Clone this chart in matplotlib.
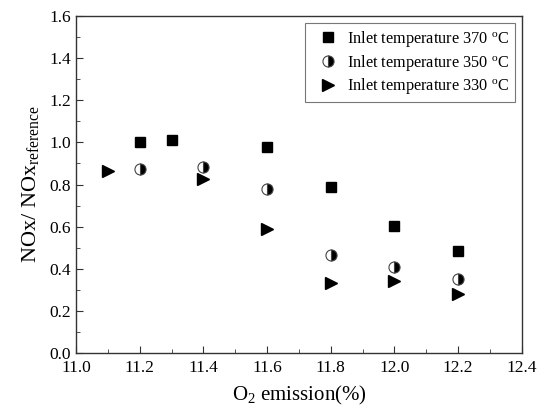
import matplotlib
matplotlib.use("Agg")
import matplotlib.pyplot as plt
from matplotlib.ticker import MultipleLocator

plt.rcParams["font.family"] = "Liberation Serif"
plt.rcParams["mathtext.fontset"] = "custom"
plt.rcParams["mathtext.rm"] = "Liberation Serif"
plt.rcParams["mathtext.it"] = "Liberation Serif:italic"

# --- data ---
x370 = [11.2, 11.3, 11.6, 11.8, 12.0, 12.2]
y370 = [1.00, 1.01, 0.98, 0.79, 0.605, 0.485]

x350 = [11.2, 11.4, 11.6, 11.8, 12.0, 12.2]
y350 = [0.875, 0.885, 0.78, 0.465, 0.41, 0.35]

x330 = [11.1, 11.4, 11.6, 11.8, 12.0, 12.2]
y330 = [0.865, 0.825, 0.59, 0.33, 0.34, 0.28]

labels = [r"Inlet temperature 370 $^{\mathrm{o}}$C",
          r"Inlet temperature 350 $^{\mathrm{o}}$C",
          r"Inlet temperature 330 $^{\mathrm{o}}$C"]

fig = plt.figure(figsize=(5.47, 4.17), dpi=100)
ax = fig.add_axes([0.139, 0.1535, 0.815, 0.808])

ax.plot(x370, y370, "s", color="black", markersize=7, linestyle="none", label=labels[0])
ax.plot(x350, y350, "o", linestyle="none", markersize=8, fillstyle="right",
        markerfacecolor="black", markerfacecoloralt="white",
        markeredgecolor="#444444", markeredgewidth=0.8, label=labels[1])
ax.plot(x330, y330, ">", color="black", markersize=9, linestyle="none", label=labels[2])

ax.set_xlim(11.0, 12.4)
ax.set_ylim(0.0, 1.6)
ax.xaxis.set_major_locator(MultipleLocator(0.2))
ax.xaxis.set_minor_locator(MultipleLocator(0.1))
ax.yaxis.set_major_locator(MultipleLocator(0.2))
ax.yaxis.set_minor_locator(MultipleLocator(0.1))
ax.xaxis.set_major_formatter(plt.FormatStrFormatter("%.1f"))
ax.yaxis.set_major_formatter(plt.FormatStrFormatter("%.1f"))
ax.tick_params(which="both", direction="in", top=False, right=False,
               labelsize=12.5, color="#333333")
ax.tick_params(which="major", length=5)
ax.tick_params(which="minor", length=3)
ax.tick_params(axis="x", which="major", pad=5)
for s in ax.spines.values():
    s.set_linewidth(1.0)
    s.set_color("#333333")

ax.set_xlabel(r"O$_2$ emission(%)", fontsize=15, labelpad=6)
ax.set_ylabel(r"NOx/ NOx$_{\mathrm{reference}}$", fontsize=16, labelpad=6)

leg = ax.legend(loc="upper right", fontsize=11.7, fancybox=False, edgecolor="#555555",
                borderaxespad=0.45, handletextpad=0.1, handlelength=2.1,
                labelspacing=0.22, borderpad=0.35)
leg.get_frame().set_linewidth(0.8)

fig.savefig("out.png", dpi=100)
